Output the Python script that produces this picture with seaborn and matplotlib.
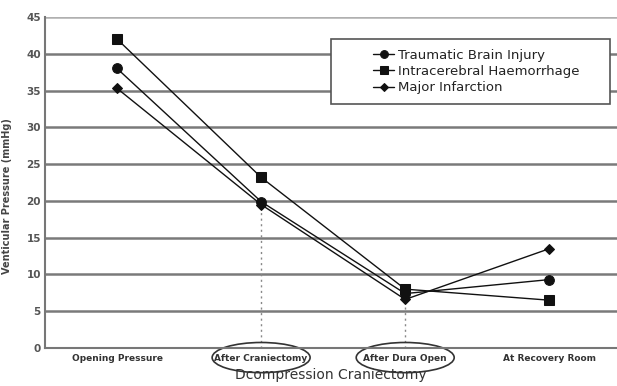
import matplotlib
matplotlib.use("Agg")
import matplotlib.pyplot as plt
from matplotlib.patches import Ellipse, Rectangle
import seaborn as sns
import pandas as pd

stages = ["Opening Pressure", "After Craniectomy", "After Dura Open", "At Recovery Room"]
series_names = ["Traumatic Brain Injury", "Intracerebral Haemorrhage", "Major Infarction"]
tbi = [38.0, 19.9, 7.4, 9.3]
ich = [42.0, 23.2, 8.0, 6.5]
infarction = [35.3, 19.5, 6.6, 13.5]
y_ticks = [0, 5, 10, 15, 20, 25, 30, 35, 40, 45]
circled_stages = ["After Craniectomy", "After Dura Open"]

rows = []
for name, vals in zip(series_names, [tbi, ich, infarction]):
    for st, v in zip(stages, vals):
        rows.append({"stage": st, "pressure": v, "series": name})
df = pd.DataFrame(rows)

sns.set_theme(style="white")
plt.rcParams["font.family"] = ["DejaVu Sans"]

fig = plt.figure(figsize=(6.17, 3.86), dpi=100)
ax = fig.add_axes([45 / 617, 1 - 348 / 386, 572 / 617, 331 / 386])

# horizontal grid
for t in y_ticks[1:]:
    ax.axhline(t, color="#7a7a7a" if t < 45 else "#b0b0b0", lw=1.8, zorder=0)

# dotted drop lines from the lowest marker to the axis
for st in circled_stages:
    i = stages.index(st)
    low = min(tbi[i], ich[i], infarction[i])
    ax.vlines(i, 0, low, colors="#888888", linestyles=(0, (1.5, 2.5)), lw=1, zorder=1)

sns.lineplot(
    data=df, x="stage", y="pressure", hue="series", style="series",
    hue_order=series_names, style_order=series_names,
    palette=["#111111"] * 3, markers={"Traumatic Brain Injury": "o",
                                      "Intracerebral Haemorrhage": "s",
                                      "Major Infarction": "D"},
    dashes=False, sort=False, lw=1.0, markersize=7, markeredgecolor="#111111",
    ax=ax, zorder=3,
)
# smaller diamonds
for line in ax.get_lines():
    if line.get_marker() == "D":
        line.set_markersize(5.5)

ax.set_xlim(-0.5, 3.47)
ax.set_ylim(0, 45)
ax.set_yticks(y_ticks)
ax.set_yticklabels([str(t) for t in y_ticks], fontsize=7.5, fontweight="bold", color="#555555")
ax.set_xticks(range(len(stages)))
ax.set_xticklabels(stages, fontsize=6.5, fontweight="bold", color="#333333")
ax.tick_params(axis="x", length=0, pad=4)
ax.tick_params(axis="y", length=3, direction="in", color="#888888", pad=3)
ax.set_xticks([0.5, 1.5, 2.5], minor=True)
ax.tick_params(axis="x", which="minor", length=3, direction="in", color="#888888")

for side in ["top", "right"]:
    ax.spines[side].set_visible(False)
for side in ["left", "bottom"]:
    ax.spines[side].set_color("#777777")
    ax.spines[side].set_linewidth(1.5)

ax.set_xlabel("Dcompression Craniectomy", fontsize=10, color="#333333", labelpad=4)
ax.set_ylabel("Venticular Pressure (mmHg)", fontsize=7, fontweight="bold", color="#444444")
ax.yaxis.set_label_coords(-0.058, 0.46)

# ellipses around highlighted stage labels
for st in circled_stages:
    i = stages.index(st)
    ax.add_patch(Ellipse((i, -1.3), 0.68, 4.1, transform=ax.transData, fill=False,
                         edgecolor="#333333", lw=1.2, clip_on=False))

# legend with a box
ax.add_patch(Rectangle((0.5, 0.737), 0.488, 0.197, transform=ax.transAxes,
                       facecolor="white", edgecolor="#555555", lw=1.2, zorder=4))
leg = ax.legend(loc="center", bbox_to_anchor=(0.5 + 0.488 / 2 + 0.01, 0.737 + 0.197 / 2),
                frameon=False, fontsize=9.5, handlelength=1.6, handletextpad=0.3,
                labelspacing=0.25, borderpad=0.2, markerscale=0.8)
leg.set_zorder(5)
for txt in leg.get_texts():
    txt.set_color("#222222")

fig.savefig("out.png", dpi=100)
